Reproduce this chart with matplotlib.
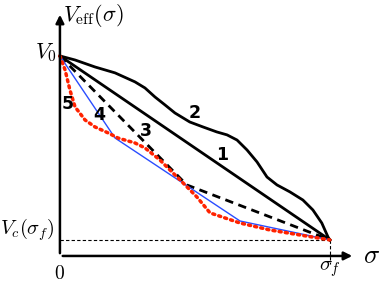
import matplotlib
matplotlib.use("Agg")
import matplotlib.pyplot as plt

plt.rcParams['mathtext.fontset'] = 'cm'

# sigma / sigma_f  and  (V - Vc) / (V0 - Vc)
s1 = [0.0, 1.0]
v1 = [1.0, 0.0]

s2 = [0.0, 0.056, 0.130, 0.204, 0.278, 0.315, 0.352, 0.389, 0.426, 0.481,
      0.530, 0.581, 0.619, 0.656, 0.693, 0.730, 0.767, 0.804, 0.852, 0.900,
      0.937, 0.970, 0.993, 1.0]
v2 = [1.0, 0.978, 0.940, 0.908, 0.859, 0.826, 0.777, 0.734, 0.690, 0.641,
      0.614, 0.587, 0.571, 0.543, 0.489, 0.424, 0.342, 0.299, 0.261, 0.217,
      0.163, 0.092, 0.016, 0.0]

s3 = [0.0, 0.470, 1.0]
v3 = [1.0, 0.299, 0.0]

s4 = [0.0, 0.204, 0.667, 1.0]
v4 = [1.0, 0.554, 0.103, 0.0]

s5 = [0.0, 0.019, 0.037, 0.056, 0.093, 0.130, 0.178, 0.215, 0.278, 0.315,
      0.370, 0.456, 0.507, 0.556, 0.667, 0.778, 1.0]
v5 = [1.0, 0.924, 0.815, 0.723, 0.652, 0.614, 0.582, 0.554, 0.527, 0.500,
      0.435, 0.310, 0.234, 0.147, 0.092, 0.054, 0.0]

labels = ["1", "2", "3", "4", "5"]
label_pos = [(0.60, 0.46), (0.50, 0.69), (0.32, 0.59), (0.145, 0.68), (0.03, 0.74)]

fig = plt.figure(figsize=(3.82, 2.83), dpi=100)
ax = fig.add_axes([0, 0, 1, 1])
ax.set_xlim(-0.222, 1.193)
ax.set_ylim(-0.234, 1.304)
ax.axis('off')

y_axis0 = -0.087
# axes with arrows
ax.annotate("", xy=(0, 1.239), xytext=(0, y_axis0),
            arrowprops=dict(arrowstyle="-|>", lw=1.8, color="black", mutation_scale=12))
ax.annotate("", xy=(1.093, y_axis0), xytext=(0, y_axis0),
            arrowprops=dict(arrowstyle="-|>", lw=1.8, color="black", mutation_scale=12))

# guide lines
ax.plot([0, 1], [0, 0], color="black", lw=0.8, ls=(0, (3, 2)))
ax.plot([1, 1], [0, -0.13], color="black", lw=0.8, ls=(0, (3, 2)))

# curves
ax.plot(s1, v1, color="black", lw=2)
ax.plot(s2, v2, color="black", lw=2)
ax.plot(s3, v3, color="black", lw=2, ls=(0, (3, 2)))
ax.plot(s4, v4, color="#2a4dff", lw=1)
ax.plot(s5, v5, color="#ff2200", lw=2.5, ls=(0, (0.6, 1.2)), dash_capstyle='round')

for lab, (x, y) in zip(labels, label_pos):
    ax.text(x, y, lab, fontsize=12.5, fontweight='bold', ha='center', va='center')

# axis texts
ax.text(0.01, 1.222, r"$V_{\rm eff}(\sigma)$", fontsize=16, ha='left', va='center')
ax.text(-0.012, 1.02, r"$V_0$", fontsize=16, ha='right', va='center')
ax.text(-0.02, 0.058, r"$V_c(\sigma_f)$", fontsize=14.5, ha='right', va='center')
ax.text(0.0, -0.182, r"$0$", fontsize=14, ha='center', va='center')
ax.text(1.0, -0.155, r"$\sigma_f$", fontsize=15, ha='center', va='center')
ax.text(1.155, -0.087, r"$\sigma$", fontsize=19, ha='center', va='center')

fig.savefig("out.png", dpi=100)
